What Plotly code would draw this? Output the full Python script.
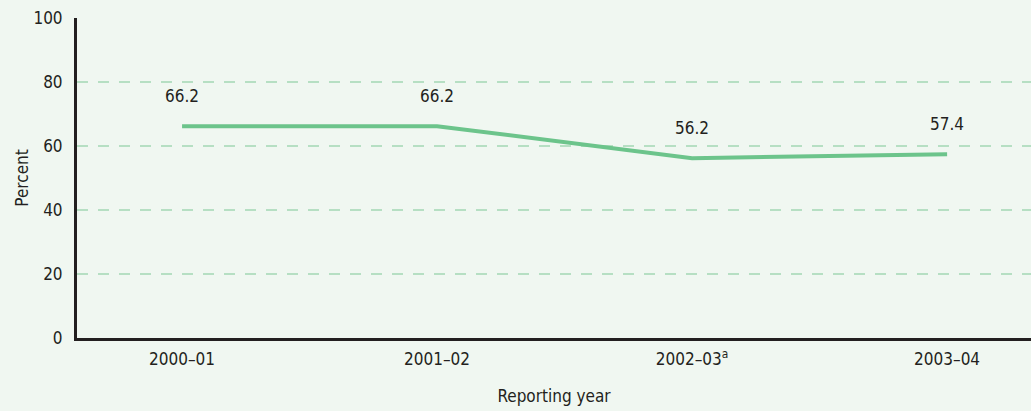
import plotly.graph_objects as go

years = ["2000–01", "2001–02", "2002–03<sup>a</sup>", "2003–04"]
values = [66.2, 66.2, 56.2, 57.4]
labels = ["66.2", "66.2", "56.2", "57.4"]
y_ticks = [0, 20, 40, 60, 80, 100]

FONT = "Liberation Sans Narrow, DejaVu Sans Condensed, Arial Narrow, sans-serif"
x_idx = list(range(len(years)))

fig = go.Figure()
fig.add_trace(go.Scatter(
    x=x_idx, y=values, mode="lines",
    line=dict(color="#6cc48b", width=4),
    hoverinfo="skip", showlegend=False,
))
for xi, v, t in zip(x_idx, values, labels):
    fig.add_annotation(x=xi, y=v, text=t, showarrow=False, yshift=30,
                       font=dict(size=17, color="#231f20", family=FONT))

fig.update_layout(
    width=1031, height=411,
    margin=dict(l=77, r=0, t=18, b=73),
    paper_bgcolor="#f0f7f1", plot_bgcolor="#f0f7f1",
    font=dict(family=FONT, size=17, color="#231f20"),
    xaxis=dict(
        range=[-0.412, 3.329],
        tickmode="array", tickvals=x_idx, ticktext=years,
        showgrid=False, zeroline=False,
        showline=True, linecolor="#231f20", linewidth=3,
        ticks="", ticklen=0, ticklabelstandoff=4,
        title=dict(text="Reporting year", standoff=22, font=dict(size=17)),
    ),
    yaxis=dict(
        range=[0, 100],
        tickmode="array", tickvals=y_ticks,
        showgrid=True, gridcolor="#b6dfc3", griddash="11px,10px", gridwidth=1.5,
        zeroline=False,
        showline=True, linecolor="#231f20", linewidth=3,
        ticks="", ticklabelstandoff=8,
        title=dict(text="Percent", standoff=1, font=dict(size=17)),
    ),
)
fig.write_html("out.html", config={"displayModeBar": False},
               post_script="document.body.style.margin='0';")
